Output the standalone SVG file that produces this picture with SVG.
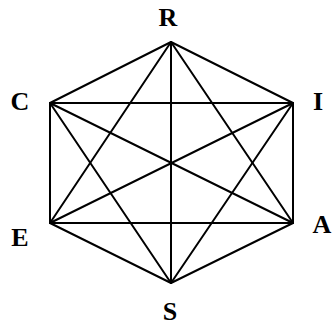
<svg xmlns="http://www.w3.org/2000/svg" width="333" height="326" viewBox="0 0 333 326">
<style>
.e{stroke:#000;stroke-width:2;fill:none;stroke-linecap:round}
.l{font-family:"Liberation Serif",serif;font-weight:bold;font-size:26px;fill:#000;text-anchor:middle}
</style>
<rect width="333" height="326" fill="#fff"/>
<g id="connectors">
<line class="e" x1="171" y1="42" x2="293" y2="103"/>
<line class="e" x1="293" y1="103" x2="293" y2="223"/>
<line class="e" x1="293" y1="223" x2="171" y2="283"/>
<line class="e" x1="171" y1="283" x2="50" y2="223"/>
<line class="e" x1="50" y1="223" x2="50" y2="103"/>
<line class="e" x1="50" y1="103" x2="171" y2="42"/>
<line class="e" x1="50" y1="103" x2="293" y2="103"/>
<line class="e" x1="50" y1="223" x2="293" y2="223"/>
<line class="e" x1="171" y1="42" x2="171" y2="283"/>
<line class="e" x1="171" y1="42" x2="50" y2="223"/>
<line class="e" x1="171" y1="42" x2="293" y2="223"/>
<line class="e" x1="50" y1="103" x2="171" y2="283"/>
<line class="e" x1="293" y1="103" x2="171" y2="283"/>
<line class="e" x1="50" y1="103" x2="293" y2="223"/>
<line class="e" x1="50" y1="223" x2="293" y2="103"/>
</g>
<g id="R"><text class="l" x="168" y="26">R</text></g>
<g id="C"><text class="l" x="20" y="110">C</text></g>
<g id="I"><text class="l" x="318" y="110">I</text></g>
<g id="E"><text class="l" x="20" y="246">E</text></g>
<g id="A"><text class="l" x="322" y="233">A</text></g>
<g id="S"><text class="l" x="170" y="320">S</text></g>
</svg>
